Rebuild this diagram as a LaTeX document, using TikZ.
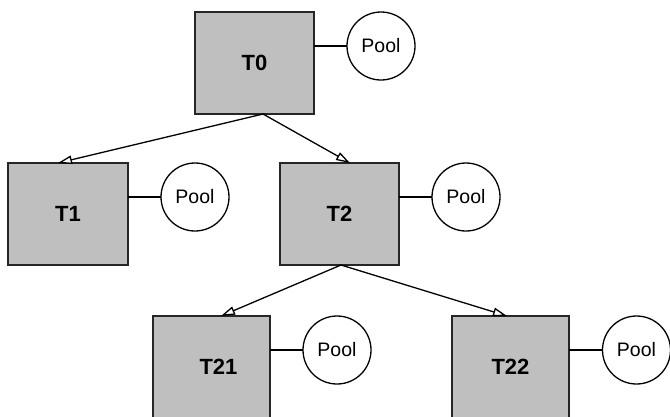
\documentclass[tikz,border=0pt]{standalone}
\usepackage{fontspec}
\setmainfont{Liberation Sans}
\usetikzlibrary{arrows.meta}
\definecolor{boxgray}{RGB}{191,191,191}
\begin{document}
\begin{tikzpicture}[x=1pt,y=-1pt,
  task/.style={draw=black!85, line width=1.4pt, fill=boxgray, inner sep=0pt, outer sep=0pt,
    minimum height=102pt, font=\fontsize{22}{26}\selectfont\bfseries},
  pool/.style={circle, draw, line width=1.3pt, fill=white, minimum size=68pt, inner sep=0pt,
    outer sep=0pt, font=\fontsize{19.5}{23}\selectfont},
  link/.style={line width=1.3pt},
  arr/.style={line width=1.3pt, -{Triangle[open, length=14pt, width=8.5pt, fill=white]}}]
\useasboundingbox (0,0) rectangle (670,416);

% task boxes
\node[task, minimum width=119pt] (T0) at (254.5,63) {T0};
\node[task, minimum width=120pt] (T1) at (68,214) {T1};
\node[task, minimum width=119pt] (T2) at (339.5,214) {T2};
\node[task, minimum width=117pt, label={[font=\fontsize{22}{26}\selectfont\bfseries, xshift=7pt]center:T21}] (T21) at (211.5,367) {};
\node[task, minimum width=117pt] (T22) at (510.5,367) {T22};

% pools
\node[pool] (P0) at (381,46) {Pool};
\node[pool] (P1) at (195,197) {Pool};
\node[pool] (P2) at (466,197) {Pool};
\node[pool] (P21) at (337,350) {Pool};
\node[pool] (P22) at (636.5,350) {Pool};

% links to pools
\draw[link] (P0.west) -- (P0.west -| T0.east);
\draw[link] (P1.west) -- (P1.west -| T1.east);
\draw[link] (P2.west) -- (P2.west -| T2.east);
\draw[link] (P21.west) -- (P21.west -| T21.east);
\draw[link] (P22.west) -- (P22.west -| T22.east);

% tree arrows
\draw[arr] ([xshift=8.5pt]T0.south) -- ([xshift=-10pt]T1.north);
\draw[arr] ([xshift=8.5pt]T0.south) -- ([xshift=10.5pt]T2.north);
\draw[arr] ([xshift=1.5pt]T2.south) -- ([xshift=9.5pt]T21.north);
\draw[arr] ([xshift=1.5pt]T2.south) -- ([xshift=-3.5pt]T22.north);
\end{tikzpicture}
\end{document}
